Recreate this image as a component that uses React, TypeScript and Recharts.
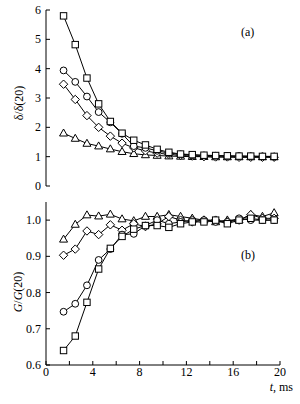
import React from "react";
import { LineChart, Line, XAxis, YAxis } from "recharts";

// time points, ms
const times = [1.5, 2.5, 3.5, 4.5, 5.5, 6.5, 7.5, 8.5, 9.5, 10.5, 11.5, 12.5, 13.5, 14.5, 15.5, 16.5, 17.5, 18.5, 19.5];

// panel (a): delta / delta(20)
const deltaSquares = [5.8, 4.82, 3.68, 2.8, 2.2, 1.8, 1.56, 1.4, 1.25, 1.15, 1.09, 1.07, 1.05, 1.04, 1.03, 1.02, 1.02, 1.01, 1.01];
const deltaCircles = [3.94, 3.55, 3.05, 2.52, 2.17, 1.78, 1.36, 1.3, 1.2, 1.12, 1.08, 1.05, 1.04, 1.03, 1.02, 1.02, 1.01, 1.01, 1.0];
const deltaDiamonds = [3.47, 2.95, 2.4, 2.0, 1.7, 1.46, 1.3, 1.2, 1.12, 1.08, 1.04, 1.02, 1.0, 0.99, 0.99, 0.98, 0.98, 0.98, 0.98];
const deltaTriangles = [1.8, 1.62, 1.45, 1.36, 1.26, 1.17, 1.1, 1.06, 1.04, 1.02, 1.01, 1.0, 1.0, 0.99, 0.99, 0.99, 0.99, 0.99, 0.99];

// panel (b): G / G(20)
const gTriangles = [0.947, 0.988, 1.014, 1.011, 1.016, 1.003, 0.998, 1.01, 1.01, 1.015, 1.01, 1.005, 1.0, 0.995, 1.0, 1.0, 1.015, 1.01, 1.02];
const gDiamonds = [0.903, 0.92, 0.97, 0.96, 0.987, 0.972, 0.99, 0.982, 0.99, 1.01, 1.0, 0.995, 1.0, 1.0, 0.995, 1.0, 1.015, 1.005, 1.005];
const gCircles = [0.747, 0.769, 0.82, 0.89, 0.92, 0.96, 0.962, 0.985, 1.0, 0.99, 0.995, 1.0, 1.0, 0.995, 0.995, 1.005, 1.0, 1.0, 1.0];
const gSquares = [0.64, 0.68, 0.773, 0.865, 0.922, 0.955, 0.975, 0.985, 0.985, 0.98, 0.99, 0.995, 0.995, 1.0, 0.99, 1.0, 1.005, 1.0, 1.0];

const xTicks = [0, 2, 4, 6, 8, 10, 12, 14, 16, 18, 20];
const deltaTicks = [0, 1, 2, 3, 4, 5, 6];
const gTicks = [0.6, 0.7, 0.8, 0.9, 1.0];

const topData = times.map((t, i) => ({
  t,
  sq: deltaSquares[i],
  ci: deltaCircles[i],
  di: deltaDiamonds[i],
  tr: deltaTriangles[i],
}));

const bottomData = times.map((t, i) => ({
  t,
  sq: gSquares[i],
  ci: gCircles[i],
  di: gDiamonds[i],
  tr: gTriangles[i],
}));

const FONT = "Liberation Serif";

type Shape = "sq" | "ci" | "di" | "tr";

function marker(shape: Shape) {
  return (props: any) => {
    const { cx, cy, index } = props;
    const key = `${shape}-${index}`;
    if (cx == null || cy == null) return <g key={key} />;
    const common = { fill: "#fff", stroke: "#000", strokeWidth: 1 };
    if (shape === "sq") {
      return <rect key={key} x={cx - 3.2} y={cy - 3.2} width={6.4} height={6.4} {...common} />;
    }
    if (shape === "ci") {
      return <circle key={key} cx={cx} cy={cy} r={3.4} {...common} />;
    }
    if (shape === "di") {
      return (
        <path key={key} d={`M${cx},${cy - 4.2}L${cx + 4.2},${cy}L${cx},${cy + 4.2}L${cx - 4.2},${cy}Z`} {...common} />
      );
    }
    return (
      <path key={key} d={`M${cx},${cy - 4.2}L${cx + 4},${cy + 2.8}L${cx - 4},${cy + 2.8}Z`} {...common} />
    );
  };
}

// tick label drawn as plain svg text so the serif font is applied
function makeTick(fmt: (v: number) => string, side: "x" | "y") {
  return (props: any) => {
    const { x, y, payload } = props;
    const label = fmt(payload.value);
    if (!label) return <g />;
    return (
      <text
        x={x}
        y={side === "x" ? y + 13 : y + 4}
        textAnchor={side === "x" ? "middle" : "end"}
        fontFamily={FONT}
        fontSize={12}
        fill="#000"
      >
        {label}
      </text>
    );
  };
}

const series: Shape[] = ["tr", "di", "ci", "sq"];

function Frame({ yDomain, yTicks, yFormat, xFormat }: any) {
  return [
    <XAxis
      key="xb"
      xAxisId="b"
      dataKey="t"
      type="number"
      domain={[0, 20]}
      ticks={xTicks}
      tickSize={-4}
      tickMargin={2}
      height={xFormat ? 30 : 0}
      tick={xFormat ? makeTick(xFormat, "x") : () => <g />}
      axisLine={{ stroke: "#000" }}
      tickLine={{ stroke: "#000" }}
    />,
    <XAxis
      key="xt"
      xAxisId="t"
      orientation="top"
      dataKey="t"
      type="number"
      domain={[0, 20]}
      ticks={xTicks}
      tickSize={-4}
      height={0}
      tick={() => <g />}
      axisLine={{ stroke: "#000" }}
      tickLine={{ stroke: "#000" }}
    />,
    <YAxis
      key="yl"
      yAxisId="l"
      type="number"
      domain={yDomain}
      ticks={yTicks}
      allowDataOverflow
      tickSize={-4}
      tickMargin={9}
      width={30}
      tick={makeTick(yFormat, "y")}
      axisLine={{ stroke: "#000" }}
      tickLine={{ stroke: "#000" }}
    />,
    <YAxis
      key="yr"
      yAxisId="r"
      orientation="right"
      type="number"
      domain={yDomain}
      ticks={yTicks}
      allowDataOverflow
      tickSize={-4}
      width={0}
      tick={() => <g />}
      axisLine={{ stroke: "#000" }}
      tickLine={{ stroke: "#000" }}
    />,
  ];
}

function Lines() {
  return series.map((s) => (
    <Line
      key={s}
      xAxisId="b"
      yAxisId="l"
      dataKey={s}
      type="linear"
      stroke="#000"
      strokeWidth={1}
      dot={marker(s)}
      activeDot={false}
      isAnimationActive={false}
    />
  ));
}

const labelStyle: React.CSSProperties = {
  position: "absolute",
  fontFamily: FONT,
  fontSize: 12,
  color: "#000",
  whiteSpace: "nowrap",
};

export default function App() {
  return (
    <div
      style={{
        position: "absolute",
        left: 0,
        top: 0,
        width: 300,
        height: 404,
        background: "#fff",
        fontFamily: FONT,
      }}
    >
      <div style={{ position: "absolute", left: 0, top: 0 }}>
        <LineChart width={300} height={196} data={topData} margin={{ top: 10, right: 20, bottom: 10, left: 16 }}>
          {Frame({ yDomain: [0, 6], yTicks: deltaTicks, yFormat: (v: number) => String(v) })}
          {Lines()}
        </LineChart>
      </div>
      <div style={{ position: "absolute", left: 0, top: 196 }}>
        <LineChart width={300} height={199} data={bottomData} margin={{ top: 6, right: 20, bottom: 0, left: 16 }}>
          {Frame({
            yDomain: [0.6, 1.05],
            yTicks: gTicks,
            yFormat: (v: number) => v.toFixed(1),
            xFormat: (v: number) => (v % 4 === 0 ? String(v) : ""),
          })}
          {Lines()}
        </LineChart>
      </div>

      <div style={{ ...labelStyle, left: 19, top: 103, transform: "translate(-50%, -50%) rotate(-90deg)" }}>
        δ/δ(20)
      </div>
      <div style={{ ...labelStyle, left: 18, top: 292, transform: "translate(-50%, -50%) rotate(-90deg)" }}>
        <i>G</i>/<i>G</i>(20)
      </div>
      <div style={{ ...labelStyle, left: 241, top: 25 }}>(a)</div>
      <div style={{ ...labelStyle, left: 241, top: 248 }}>(b)</div>
      <div style={{ ...labelStyle, right: 7, top: 380 }}>
        <i>t</i>, ms
      </div>
    </div>
  );
}
